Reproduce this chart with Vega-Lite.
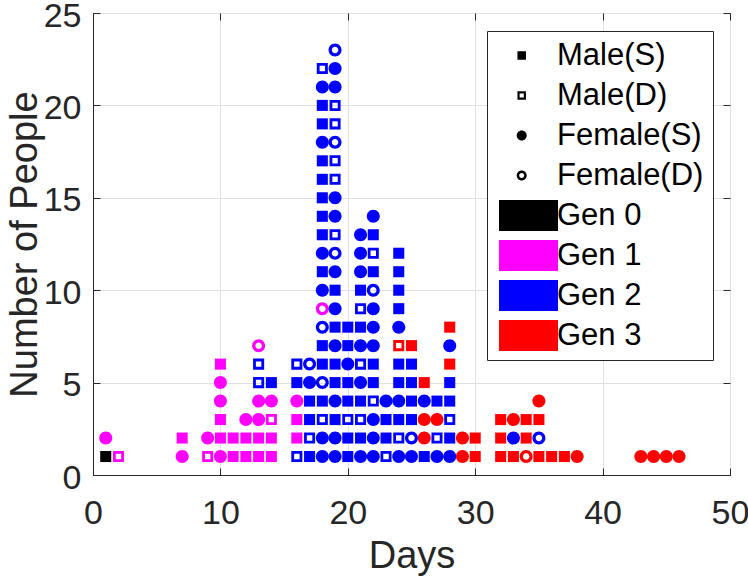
{
  "$schema": "https://vega.github.io/schema/vega-lite/v6.json",
  "width": 637,
  "height": 462,
  "autosize": {"type": "none"},
  "padding": {"left": 93, "top": 13, "right": 18, "bottom": 107},
  "background": "white",
  "config": {
    "view": {"stroke": "#262626", "strokeWidth": 1},
    "font": "Liberation Sans",
    "axis": {
      "labelFont": "Liberation Sans",
      "titleFont": "Liberation Sans",
      "tickColor": "#262626",
      "domainColor": "#262626",
      "labelColor": "#262626",
      "titleColor": "#262626",
      "gridColor": "#e0e0e0",
      "tickWidth": 1,
      "domainWidth": 1,
      "titleFontWeight": "normal",
      "labelFlush": false,
      "labelOverlap": false
    }
  },
  "data": {
    "values": [
      {"day": 1, "people": 1, "type": "Male(S)", "gen": "Gen 0"},
      {"day": 1, "people": 2, "type": "Female(S)", "gen": "Gen 1"},
      {"day": 2, "people": 1, "type": "Male(D)", "gen": "Gen 1"},
      {"day": 7, "people": 1, "type": "Female(S)", "gen": "Gen 1"},
      {"day": 7, "people": 2, "type": "Male(S)", "gen": "Gen 1"},
      {"day": 9, "people": 1, "type": "Male(D)", "gen": "Gen 1"},
      {"day": 9, "people": 2, "type": "Female(S)", "gen": "Gen 1"},
      {"day": 10, "people": 1, "type": "Female(S)", "gen": "Gen 1"},
      {"day": 10, "people": 2, "type": "Male(S)", "gen": "Gen 1"},
      {"day": 10, "people": 3, "type": "Male(S)", "gen": "Gen 1"},
      {"day": 10, "people": 4, "type": "Female(S)", "gen": "Gen 1"},
      {"day": 10, "people": 5, "type": "Female(S)", "gen": "Gen 1"},
      {"day": 10, "people": 6, "type": "Male(S)", "gen": "Gen 1"},
      {"day": 11, "people": 1, "type": "Male(S)", "gen": "Gen 1"},
      {"day": 11, "people": 2, "type": "Male(S)", "gen": "Gen 1"},
      {"day": 12, "people": 1, "type": "Male(S)", "gen": "Gen 1"},
      {"day": 12, "people": 2, "type": "Male(S)", "gen": "Gen 1"},
      {"day": 12, "people": 3, "type": "Female(S)", "gen": "Gen 1"},
      {"day": 13, "people": 1, "type": "Male(S)", "gen": "Gen 1"},
      {"day": 13, "people": 2, "type": "Male(S)", "gen": "Gen 1"},
      {"day": 13, "people": 3, "type": "Female(S)", "gen": "Gen 1"},
      {"day": 13, "people": 4, "type": "Female(S)", "gen": "Gen 1"},
      {"day": 13, "people": 5, "type": "Male(D)", "gen": "Gen 2"},
      {"day": 13, "people": 6, "type": "Male(D)", "gen": "Gen 2"},
      {"day": 13, "people": 7, "type": "Female(D)", "gen": "Gen 1"},
      {"day": 14, "people": 1, "type": "Male(S)", "gen": "Gen 1"},
      {"day": 14, "people": 2, "type": "Male(S)", "gen": "Gen 1"},
      {"day": 14, "people": 3, "type": "Male(D)", "gen": "Gen 1"},
      {"day": 14, "people": 4, "type": "Female(S)", "gen": "Gen 1"},
      {"day": 14, "people": 5, "type": "Male(S)", "gen": "Gen 2"},
      {"day": 16, "people": 1, "type": "Male(D)", "gen": "Gen 2"},
      {"day": 16, "people": 2, "type": "Male(S)", "gen": "Gen 1"},
      {"day": 16, "people": 3, "type": "Male(S)", "gen": "Gen 1"},
      {"day": 16, "people": 4, "type": "Female(S)", "gen": "Gen 1"},
      {"day": 16, "people": 5, "type": "Male(S)", "gen": "Gen 2"},
      {"day": 16, "people": 6, "type": "Male(D)", "gen": "Gen 2"},
      {"day": 17, "people": 1, "type": "Male(S)", "gen": "Gen 2"},
      {"day": 17, "people": 2, "type": "Male(D)", "gen": "Gen 2"},
      {"day": 17, "people": 3, "type": "Male(S)", "gen": "Gen 2"},
      {"day": 17, "people": 4, "type": "Male(S)", "gen": "Gen 2"},
      {"day": 17, "people": 5, "type": "Female(S)", "gen": "Gen 2"},
      {"day": 17, "people": 6, "type": "Female(D)", "gen": "Gen 2"},
      {"day": 18, "people": 1, "type": "Female(S)", "gen": "Gen 2"},
      {"day": 18, "people": 2, "type": "Female(S)", "gen": "Gen 2"},
      {"day": 18, "people": 3, "type": "Male(D)", "gen": "Gen 2"},
      {"day": 18, "people": 4, "type": "Male(S)", "gen": "Gen 2"},
      {"day": 18, "people": 5, "type": "Female(D)", "gen": "Gen 2"},
      {"day": 18, "people": 6, "type": "Male(S)", "gen": "Gen 2"},
      {"day": 18, "people": 7, "type": "Male(S)", "gen": "Gen 2"},
      {"day": 18, "people": 8, "type": "Female(D)", "gen": "Gen 2"},
      {"day": 18, "people": 9, "type": "Female(D)", "gen": "Gen 1"},
      {"day": 18, "people": 10, "type": "Female(S)", "gen": "Gen 2"},
      {"day": 18, "people": 11, "type": "Male(S)", "gen": "Gen 2"},
      {"day": 18, "people": 12, "type": "Female(S)", "gen": "Gen 2"},
      {"day": 18, "people": 13, "type": "Male(S)", "gen": "Gen 2"},
      {"day": 18, "people": 14, "type": "Male(S)", "gen": "Gen 2"},
      {"day": 18, "people": 15, "type": "Male(S)", "gen": "Gen 2"},
      {"day": 18, "people": 16, "type": "Male(S)", "gen": "Gen 2"},
      {"day": 18, "people": 17, "type": "Male(S)", "gen": "Gen 2"},
      {"day": 18, "people": 18, "type": "Female(S)", "gen": "Gen 2"},
      {"day": 18, "people": 19, "type": "Male(S)", "gen": "Gen 2"},
      {"day": 18, "people": 20, "type": "Male(S)", "gen": "Gen 2"},
      {"day": 18, "people": 21, "type": "Female(S)", "gen": "Gen 2"},
      {"day": 18, "people": 22, "type": "Male(D)", "gen": "Gen 2"},
      {"day": 19, "people": 1, "type": "Female(S)", "gen": "Gen 2"},
      {"day": 19, "people": 2, "type": "Female(S)", "gen": "Gen 2"},
      {"day": 19, "people": 3, "type": "Male(S)", "gen": "Gen 2"},
      {"day": 19, "people": 4, "type": "Female(S)", "gen": "Gen 2"},
      {"day": 19, "people": 5, "type": "Male(S)", "gen": "Gen 2"},
      {"day": 19, "people": 6, "type": "Male(S)", "gen": "Gen 2"},
      {"day": 19, "people": 7, "type": "Female(S)", "gen": "Gen 2"},
      {"day": 19, "people": 8, "type": "Male(S)", "gen": "Gen 2"},
      {"day": 19, "people": 9, "type": "Female(S)", "gen": "Gen 2"},
      {"day": 19, "people": 10, "type": "Male(S)", "gen": "Gen 2"},
      {"day": 19, "people": 11, "type": "Female(S)", "gen": "Gen 2"},
      {"day": 19, "people": 12, "type": "Female(D)", "gen": "Gen 2"},
      {"day": 19, "people": 13, "type": "Male(D)", "gen": "Gen 2"},
      {"day": 19, "people": 14, "type": "Female(S)", "gen": "Gen 2"},
      {"day": 19, "people": 15, "type": "Female(S)", "gen": "Gen 2"},
      {"day": 19, "people": 16, "type": "Male(D)", "gen": "Gen 2"},
      {"day": 19, "people": 17, "type": "Male(D)", "gen": "Gen 2"},
      {"day": 19, "people": 18, "type": "Female(D)", "gen": "Gen 2"},
      {"day": 19, "people": 19, "type": "Male(D)", "gen": "Gen 2"},
      {"day": 19, "people": 20, "type": "Male(D)", "gen": "Gen 2"},
      {"day": 19, "people": 21, "type": "Female(S)", "gen": "Gen 2"},
      {"day": 19, "people": 22, "type": "Female(S)", "gen": "Gen 2"},
      {"day": 19, "people": 23, "type": "Female(D)", "gen": "Gen 2"},
      {"day": 20, "people": 1, "type": "Male(S)", "gen": "Gen 2"},
      {"day": 20, "people": 2, "type": "Male(S)", "gen": "Gen 2"},
      {"day": 20, "people": 3, "type": "Male(D)", "gen": "Gen 2"},
      {"day": 20, "people": 4, "type": "Male(S)", "gen": "Gen 2"},
      {"day": 20, "people": 5, "type": "Male(S)", "gen": "Gen 2"},
      {"day": 20, "people": 6, "type": "Female(S)", "gen": "Gen 2"},
      {"day": 20, "people": 7, "type": "Male(S)", "gen": "Gen 2"},
      {"day": 20, "people": 8, "type": "Male(S)", "gen": "Gen 2"},
      {"day": 21, "people": 1, "type": "Female(S)", "gen": "Gen 2"},
      {"day": 21, "people": 2, "type": "Male(S)", "gen": "Gen 2"},
      {"day": 21, "people": 3, "type": "Male(D)", "gen": "Gen 2"},
      {"day": 21, "people": 4, "type": "Male(S)", "gen": "Gen 2"},
      {"day": 21, "people": 5, "type": "Female(S)", "gen": "Gen 2"},
      {"day": 21, "people": 6, "type": "Male(D)", "gen": "Gen 2"},
      {"day": 21, "people": 7, "type": "Female(S)", "gen": "Gen 2"},
      {"day": 21, "people": 8, "type": "Male(S)", "gen": "Gen 2"},
      {"day": 21, "people": 9, "type": "Male(D)", "gen": "Gen 2"},
      {"day": 21, "people": 10, "type": "Male(S)", "gen": "Gen 2"},
      {"day": 21, "people": 11, "type": "Female(S)", "gen": "Gen 2"},
      {"day": 21, "people": 12, "type": "Female(S)", "gen": "Gen 2"},
      {"day": 21, "people": 13, "type": "Female(S)", "gen": "Gen 2"},
      {"day": 22, "people": 1, "type": "Female(S)", "gen": "Gen 2"},
      {"day": 22, "people": 2, "type": "Female(S)", "gen": "Gen 2"},
      {"day": 22, "people": 3, "type": "Female(S)", "gen": "Gen 2"},
      {"day": 22, "people": 4, "type": "Male(D)", "gen": "Gen 2"},
      {"day": 22, "people": 5, "type": "Male(S)", "gen": "Gen 2"},
      {"day": 22, "people": 6, "type": "Male(S)", "gen": "Gen 2"},
      {"day": 22, "people": 7, "type": "Female(S)", "gen": "Gen 2"},
      {"day": 22, "people": 8, "type": "Female(S)", "gen": "Gen 2"},
      {"day": 22, "people": 9, "type": "Female(S)", "gen": "Gen 2"},
      {"day": 22, "people": 10, "type": "Female(D)", "gen": "Gen 2"},
      {"day": 22, "people": 11, "type": "Male(S)", "gen": "Gen 2"},
      {"day": 22, "people": 12, "type": "Male(D)", "gen": "Gen 2"},
      {"day": 22, "people": 13, "type": "Male(S)", "gen": "Gen 2"},
      {"day": 22, "people": 14, "type": "Female(S)", "gen": "Gen 2"},
      {"day": 23, "people": 1, "type": "Male(D)", "gen": "Gen 2"},
      {"day": 23, "people": 2, "type": "Male(S)", "gen": "Gen 2"},
      {"day": 23, "people": 3, "type": "Male(S)", "gen": "Gen 2"},
      {"day": 23, "people": 4, "type": "Female(S)", "gen": "Gen 2"},
      {"day": 24, "people": 1, "type": "Female(S)", "gen": "Gen 2"},
      {"day": 24, "people": 2, "type": "Male(D)", "gen": "Gen 2"},
      {"day": 24, "people": 3, "type": "Male(S)", "gen": "Gen 2"},
      {"day": 24, "people": 4, "type": "Female(S)", "gen": "Gen 2"},
      {"day": 24, "people": 5, "type": "Male(S)", "gen": "Gen 2"},
      {"day": 24, "people": 6, "type": "Male(S)", "gen": "Gen 2"},
      {"day": 24, "people": 7, "type": "Male(D)", "gen": "Gen 3"},
      {"day": 24, "people": 8, "type": "Female(S)", "gen": "Gen 2"},
      {"day": 24, "people": 9, "type": "Male(S)", "gen": "Gen 2"},
      {"day": 24, "people": 10, "type": "Male(S)", "gen": "Gen 2"},
      {"day": 24, "people": 11, "type": "Male(S)", "gen": "Gen 2"},
      {"day": 24, "people": 12, "type": "Male(S)", "gen": "Gen 2"},
      {"day": 25, "people": 1, "type": "Female(S)", "gen": "Gen 2"},
      {"day": 25, "people": 2, "type": "Female(D)", "gen": "Gen 2"},
      {"day": 25, "people": 3, "type": "Male(S)", "gen": "Gen 2"},
      {"day": 25, "people": 4, "type": "Male(S)", "gen": "Gen 2"},
      {"day": 25, "people": 5, "type": "Male(S)", "gen": "Gen 2"},
      {"day": 25, "people": 6, "type": "Male(S)", "gen": "Gen 2"},
      {"day": 25, "people": 7, "type": "Male(S)", "gen": "Gen 3"},
      {"day": 26, "people": 1, "type": "Male(S)", "gen": "Gen 2"},
      {"day": 26, "people": 2, "type": "Female(S)", "gen": "Gen 3"},
      {"day": 26, "people": 3, "type": "Female(S)", "gen": "Gen 3"},
      {"day": 26, "people": 4, "type": "Female(S)", "gen": "Gen 2"},
      {"day": 26, "people": 5, "type": "Male(S)", "gen": "Gen 3"},
      {"day": 27, "people": 1, "type": "Female(S)", "gen": "Gen 2"},
      {"day": 27, "people": 2, "type": "Male(D)", "gen": "Gen 2"},
      {"day": 27, "people": 3, "type": "Female(S)", "gen": "Gen 3"},
      {"day": 27, "people": 4, "type": "Male(S)", "gen": "Gen 2"},
      {"day": 28, "people": 1, "type": "Female(S)", "gen": "Gen 2"},
      {"day": 28, "people": 2, "type": "Male(S)", "gen": "Gen 2"},
      {"day": 28, "people": 3, "type": "Male(D)", "gen": "Gen 2"},
      {"day": 28, "people": 4, "type": "Male(S)", "gen": "Gen 2"},
      {"day": 28, "people": 5, "type": "Male(S)", "gen": "Gen 2"},
      {"day": 28, "people": 6, "type": "Male(S)", "gen": "Gen 3"},
      {"day": 28, "people": 7, "type": "Female(S)", "gen": "Gen 2"},
      {"day": 28, "people": 8, "type": "Male(S)", "gen": "Gen 3"},
      {"day": 29, "people": 1, "type": "Female(S)", "gen": "Gen 3"},
      {"day": 29, "people": 2, "type": "Female(S)", "gen": "Gen 3"},
      {"day": 30, "people": 1, "type": "Male(S)", "gen": "Gen 3"},
      {"day": 30, "people": 2, "type": "Male(S)", "gen": "Gen 3"},
      {"day": 32, "people": 1, "type": "Male(S)", "gen": "Gen 3"},
      {"day": 32, "people": 2, "type": "Male(S)", "gen": "Gen 3"},
      {"day": 32, "people": 3, "type": "Male(S)", "gen": "Gen 3"},
      {"day": 33, "people": 1, "type": "Male(S)", "gen": "Gen 3"},
      {"day": 33, "people": 2, "type": "Female(S)", "gen": "Gen 2"},
      {"day": 33, "people": 3, "type": "Female(S)", "gen": "Gen 3"},
      {"day": 34, "people": 1, "type": "Female(D)", "gen": "Gen 3"},
      {"day": 34, "people": 2, "type": "Male(S)", "gen": "Gen 3"},
      {"day": 34, "people": 3, "type": "Male(S)", "gen": "Gen 3"},
      {"day": 35, "people": 1, "type": "Male(S)", "gen": "Gen 3"},
      {"day": 35, "people": 2, "type": "Female(D)", "gen": "Gen 2"},
      {"day": 35, "people": 3, "type": "Male(S)", "gen": "Gen 3"},
      {"day": 35, "people": 4, "type": "Female(S)", "gen": "Gen 3"},
      {"day": 36, "people": 1, "type": "Male(S)", "gen": "Gen 3"},
      {"day": 37, "people": 1, "type": "Male(S)", "gen": "Gen 3"},
      {"day": 38, "people": 1, "type": "Female(S)", "gen": "Gen 3"},
      {"day": 43, "people": 1, "type": "Female(S)", "gen": "Gen 3"},
      {"day": 44, "people": 1, "type": "Female(S)", "gen": "Gen 3"},
      {"day": 45, "people": 1, "type": "Female(S)", "gen": "Gen 3"},
      {"day": 46, "people": 1, "type": "Female(S)", "gen": "Gen 3"}
    ]
  },
  "layer": [
    {
      "mark": {"type": "point", "filled": true, "opacity": 1, "size": 169, "strokeWidth": 0},
      "encoding": {
        "x": {
          "field": "day", "type": "quantitative",
          "scale": {"domain": [0, 50], "nice": false, "zero": false},
          "axis": {
            "orient": "bottom", "values": [0, 10, 20, 30, 40, 50], "title": "Days",
            "grid": true, "tickSize": -7, "labelFontSize": 34, "labelBaseline": "alphabetic",
            "labelPadding": 55, "titleFontSize": 38, "titleX": 318.5, "titleY": 92,
            "titleAlign": "center", "titleBaseline": "alphabetic"
          }
        },
        "y": {
          "field": "people", "type": "quantitative",
          "scale": {"domain": [0, 25], "nice": false, "zero": true},
          "axis": {
            "orient": "left", "values": [0, 5, 10, 15, 20, 25], "title": "Number of People",
            "grid": true, "tickSize": -7, "labelFontSize": 34, "labelBaseline": "middle",
            "labelPadding": 19, "labelOffset": 3, "titleFontSize": 38, "titleX": -57, "titleY": 231,
            "titleAngle": -90, "titleAlign": "center", "titleBaseline": "alphabetic"
          }
        },
        "shape": {
          "field": "type", "type": "nominal",
          "scale": {
            "domain": ["Male(S)", "Male(D)", "Female(S)", "Female(D)", "Gen 0", "Gen 1", "Gen 2", "Gen 3"],
            "range": [
              "M-0.85,-0.85H0.85V0.85H-0.85Z",
              "M-0.85,-0.85H0.85V0.85H-0.85ZM-0.42,-0.42V0.42H0.42V-0.42Z",
              "M1,0A1,1,0,1,1,-1,0A1,1,0,1,1,1,0Z",
              "M1,0A1,1,0,1,1,-1,0A1,1,0,1,1,1,0ZM0.5,0A0.5,0.5,0,1,0,-0.5,0A0.5,0.5,0,1,0,0.5,0Z",
              "M-4.54,-3.1H7.26V3.1H-4.54Z",
              "M-4.54,-3.1H7.26V3.1H-4.54Z",
              "M-4.54,-3.1H7.26V3.1H-4.54Z",
              "M-4.54,-3.1H7.26V3.1H-4.54Z"
            ]
          },
          "legend": {
            "orient": "none", "legendX": 394, "legendY": 18, "title": null, "direction": "vertical",
            "labelFontSize": 31, "labelColor": "black", "labelFont": "Liberation Sans", "labelLimit": 400,
            "symbolSize": 100, "symbolOffset": 10.2, "labelOffset": 19.8, "rowPadding": 8,
            "padding": 9, "strokeColor": "#262626", "fillColor": "white", "cornerRadius": 0,
            "symbolStrokeWidth": 0, "symbolOpacity": 1,
            "symbolFillColor": {"expr": "datum.value === 'Gen 1' ? '#ff00ff' : datum.value === 'Gen 2' ? '#0000ff' : datum.value === 'Gen 3' ? '#ff0000' : '#000000'"}
          }
        },
        "color": {
          "field": "gen", "type": "nominal",
          "scale": {"domain": ["Gen 0", "Gen 1", "Gen 2", "Gen 3"], "range": ["#000000", "#ff00ff", "#0000ff", "#ff0000"]},
          "legend": null
        }
      }
    },
    {
      "mark": {"type": "point", "opacity": 0},
      "encoding": {
        "x": {
          "field": "day", "type": "quantitative",
          "scale": {"domain": [0, 50], "nice": false, "zero": false},
          "axis": {"orient": "top", "values": [0, 10, 20, 30, 40, 50], "labels": false, "grid": false, "domain": false, "tickSize": -7, "title": null}
        },
        "y": {
          "field": "people", "type": "quantitative",
          "scale": {"domain": [0, 25], "nice": false, "zero": true},
          "axis": {"orient": "right", "values": [0, 5, 10, 15, 20, 25], "labels": false, "grid": false, "domain": false, "tickSize": -7, "title": null}
        }
      }
    }
  ],
  "resolve": {"axis": {"x": "independent", "y": "independent"}}
}
